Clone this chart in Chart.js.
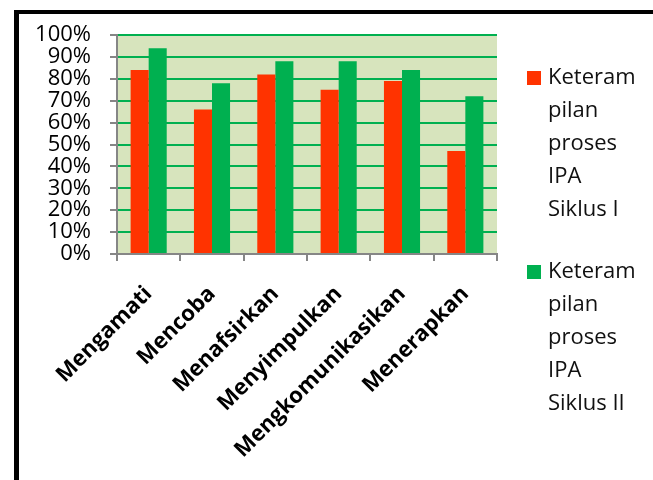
<!DOCTYPE html>
<html>
<head>
<meta charset="utf-8">
<script src="https://cdn.jsdelivr.net/npm/chart.js@4/dist/chart.umd.min.js"></script>
<style>
  html, body { margin: 0; padding: 0; background: #fff; }
  #wrap { position: relative; width: 653px; height: 480px; overflow: hidden; }
  #frame { position: absolute; left: 14px; top: 10px; width: 720px; height: 520px;
           border-left: 5px solid #000; border-top: 4px solid #000; }
  #c { position: absolute; left: 0; top: 0; }
</style>
</head>
<body>
<div id="wrap">
  <div id="frame"></div>
  <canvas id="c" width="653" height="480"></canvas>
</div>
<script>
// Keterampilan proses IPA per aspek, siklus I dan siklus II (persen)
const categories = ['Mengamati', 'Mencoba', 'Menafsirkan', 'Menyimpulkan', 'Mengkomunikasikan', 'Menerapkan'];
const siklusI  = [84, 66, 82, 75, 79, 47];
const siklusII = [94, 78, 88, 88, 84, 72];
const seriesLabels = [
  ['Keteram', 'pilan', 'proses', 'IPA', 'Siklus I'],
  ['Keteram', 'pilan', 'proses', 'IPA', 'Siklus II']
];
const yMin = 0, yMax = 100, yStep = 10;

const RED = '#FF3300';
const GREEN = '#00B050';
const AXIS_GREY = '#868686';

// light green plot area fill
const plotBackground = {
  id: 'plotBackground',
  beforeDraw(chart) {
    const { ctx, chartArea: a } = chart;
    ctx.save();
    ctx.fillStyle = '#D7E4BD';
    ctx.fillRect(a.left, a.top, a.right - a.left, a.bottom - a.top);
    ctx.restore();
  }
};

// legend on the right with the series names broken over several lines
const wrappedLegend = {
  id: 'wrappedLegend',
  afterDraw(chart) {
    const ctx = chart.ctx;
    const firstLine = [78, 272];
    const lineH = 33;
    ctx.save();
    ctx.font = '22px "Open Sans"';
    ctx.textBaseline = 'middle';
    ctx.textAlign = 'left';
    chart.data.datasets.forEach((ds, i) => {
      const y0 = firstLine[i];
      ctx.fillStyle = ds.backgroundColor;
      ctx.fillRect(527, y0 - 7, 14, 14);
      ctx.fillStyle = '#111';
      ds.label.forEach((line, j) => ctx.fillText(line, 548, y0 + j * lineH));
    });
    ctx.restore();
  }
};

new Chart(document.getElementById('c'), {
  type: 'bar',
  data: {
    labels: categories,
    datasets: [
      { label: seriesLabels[0], data: siklusI,  backgroundColor: RED,   borderWidth: 0 },
      { label: seriesLabels[1], data: siklusII, backgroundColor: GREEN, borderWidth: 0 }
    ]
  },
  options: {
    responsive: false,
    animation: false,
    devicePixelRatio: 1,
    layout: { padding: { top: 35, right: 156, left: 0, bottom: 0 } },
    datasets: { bar: { categoryPercentage: 0.57, barPercentage: 1.0 } },
    plugins: { legend: { display: false }, tooltip: { enabled: false } },
    scales: {
      x: {
        afterFit(s) { s.height = 226; },
        grid: { offset: true, drawOnChartArea: false, tickLength: 7, color: AXIS_GREY, tickColor: AXIS_GREY, lineWidth: 2 },
        border: { color: AXIS_GREY, width: 2 },
        ticks: {
          autoSkip: false, minRotation: 45, maxRotation: 45, padding: 20,
          color: '#000', font: { family: '"Open Sans"', size: 22, weight: 'bold' }
        }
      },
      y: {
        min: yMin, max: yMax,
        afterFit(s) { s.width = 117; },
        grid: {
          tickLength: 7, lineWidth: 2, tickColor: AXIS_GREY,
          color: (c) => (c.tick && c.tick.value === 0) ? 'rgba(0,0,0,0)' : GREEN
        },
        border: { color: AXIS_GREY, width: 2 },
        ticks: {
          stepSize: yStep, autoSkip: false, padding: 19,
          color: '#000', font: { family: '"Open Sans"', size: 22 },
          callback: (v) => v + '%'
        }
      }
    }
  },
  plugins: [plotBackground, wrappedLegend]
});
</script>
</body>
</html>
